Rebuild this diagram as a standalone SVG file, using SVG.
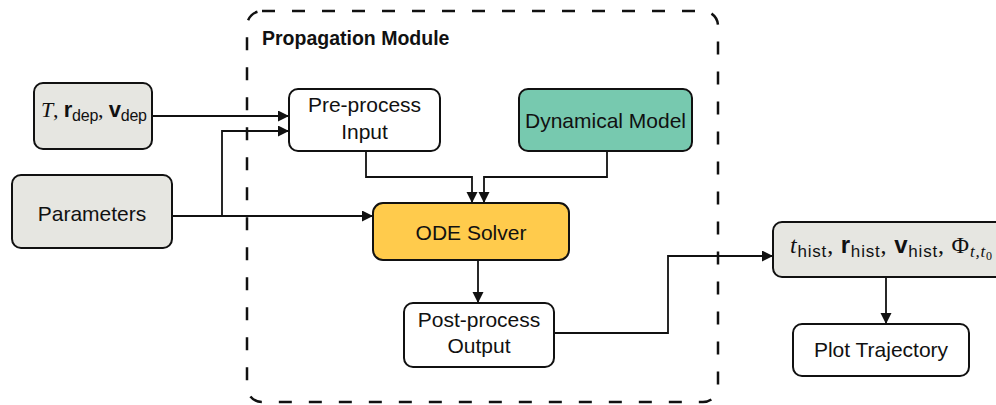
<svg xmlns="http://www.w3.org/2000/svg" width="996" height="405" viewBox="0 0 996 405">
<defs>
<marker id="arr" markerUnits="userSpaceOnUse" markerWidth="12" markerHeight="12" refX="11" refY="5.5" orient="auto">
<path d="M0,0 L11,5.5 L0,11 Z" fill="#111"/>
</marker>
<style>
.box{stroke:#111;stroke-width:2;}
.t{font-family:"Liberation Sans",Arial,sans-serif;font-size:21px;fill:#111;text-anchor:middle;}
.m{font-family:"Liberation Sans",Arial,sans-serif;fill:#111;}
.mi{font-family:"Liberation Serif","Times New Roman",serif;font-style:italic;}
.ms{font-family:"Liberation Serif","Times New Roman",serif;}
.b{font-weight:bold;}
.c{fill:none;stroke:#111;stroke-width:1.8;marker-end:url(#arr);}
</style>
</defs>
<rect id="container" x="247" y="11" width="471" height="391" rx="15" fill="none" stroke="#111" stroke-width="2.5" stroke-dasharray="13 17"/>
<text x="262" y="45" font-family="Liberation Sans, Arial, sans-serif" font-size="19.5" font-weight="bold" fill="#111">Propagation Module</text>

<g id="connectors">
<path class="c" d="M152,116 L289,116"/>
<path class="c" d="M222,216 L222,131 L289,131"/>
<path class="c" d="M172,216 L373,216"/>
<path class="c" d="M366,151 L366,177 L472,177 L472,203"/>
<path class="c" d="M607,151 L607,177 L484,177 L484,203"/>
<path class="c" d="M478,260 L478,303"/>
<path class="c" d="M554,333 L668,333 L668,256 L773,256"/>
<path class="c" d="M886,277 L886,324"/>
</g>

<g id="inputs">
<rect class="box" x="34" y="83" width="118" height="66" rx="9" fill="#e6e6e1"/>
<text class="m" x="41" y="117" font-size="22" textLength="106" lengthAdjust="spacing"><tspan class="mi">T</tspan><tspan class="ms">, </tspan><tspan class="b">r</tspan><tspan font-size="16" dy="4">dep</tspan><tspan class="ms" dy="-4">, </tspan><tspan class="b">v</tspan><tspan font-size="16" dy="4">dep</tspan></text>
</g>

<g id="parameters">
<rect class="box" x="12" y="175" width="160" height="73" rx="9" fill="#e6e6e1"/>
<text class="t" x="92" y="221">Parameters</text>
</g>

<g id="preprocess">
<rect class="box" x="289" y="89" width="151" height="62" rx="9" fill="#fff"/>
<text class="t" x="364.5" y="112">Pre-process</text>
<text class="t" x="364.5" y="139">Input</text>
</g>

<g id="dynamical">
<rect class="box" x="519" y="89" width="173" height="62" rx="9" fill="#77c9af"/>
<text class="t" x="605.5" y="128">Dynamical Model</text>
</g>

<g id="ode">
<rect class="box" x="373" y="203" width="196" height="57" rx="10" fill="#ffcb4c"/>
<text class="t" x="471" y="240">ODE Solver</text>
</g>

<g id="postprocess">
<rect class="box" x="404" y="303" width="150" height="64" rx="9" fill="#fff"/>
<text class="t" x="479" y="327">Post-process</text>
<text class="t" x="479" y="353">Output</text>
</g>

<g id="output">
<rect class="box" x="773" y="222" width="232" height="55" rx="9" fill="#e6e6e1"/>
<text class="m" x="790" y="253" font-size="24" textLength="202" lengthAdjust="spacing"><tspan class="mi">t</tspan><tspan font-size="17" dy="4">hist</tspan><tspan class="ms" dy="-4">, </tspan><tspan class="b">r</tspan><tspan font-size="17" dy="4">hist</tspan><tspan class="ms" dy="-4">, </tspan><tspan class="b">v</tspan><tspan font-size="17" dy="4">hist</tspan><tspan class="ms" dy="-4">, Φ</tspan><tspan class="mi" font-size="17" dy="4">t,t</tspan><tspan class="ms" font-size="12" dy="3">0</tspan></text>
</g>

<g id="plot">
<rect class="box" x="793" y="324" width="176" height="52" rx="9" fill="#fff"/>
<text class="t" x="881" y="357">Plot Trajectory</text>
</g>
</svg>
